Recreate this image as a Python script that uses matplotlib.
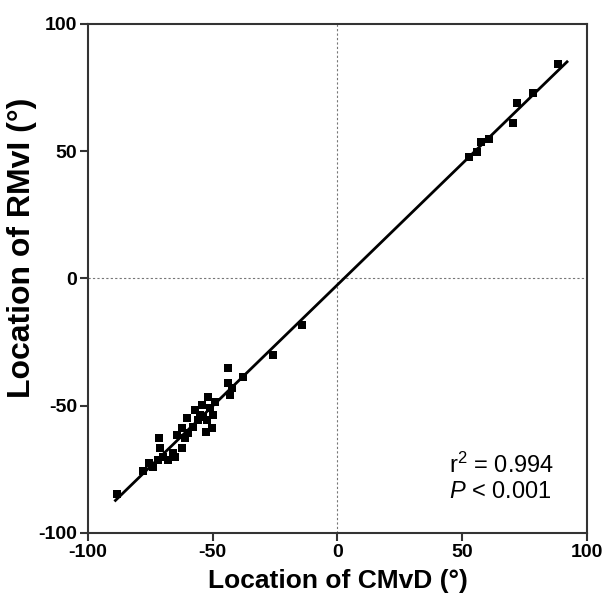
import matplotlib
matplotlib.use("Agg")
import matplotlib.pyplot as plt
import numpy as np

plt.rcParams['font.family'] = ['Liberation Sans', 'DejaVu Sans']
plt.rcParams['mathtext.fontset'] = 'custom'
plt.rcParams['mathtext.rm'] = 'Liberation Sans'
plt.rcParams['mathtext.it'] = 'Liberation Sans:italic'
plt.rcParams['axes.unicode_minus'] = False

# location of CMvD (x) vs location of RMvI (y), degrees
cmvd = [-88.3, -78.1, -75.4, -73.8, -71.4, -71.1, -71.8, -69.8, -67.8, -65.8,
        -65.1, -64.5, -62.4, -62.4, -61.1, -59.8, -60.2, -57.1, -57.8, -55.8,
        -55.1, -54.4, -53.8, -52.7, -52.4, -51.8, -51.1, -50.4, -49.8, -49.1,
        -43.8, -43.8, -42.4, -43.1, -37.8, -25.7, -14.2,
        52.9, 56.1, 57.6, 60.9, 70.3, 71.9, 78.3, 88.5]
rmvi = [-84.7, -75.5, -72.6, -74.0, -62.8, -66.7, -71.3, -70.0, -71.3, -68.7,
        -70.0, -61.5, -58.9, -66.7, -62.8, -60.8, -54.9, -51.7, -58.2, -55.6,
        -53.6, -49.7, -54.3, -60.2, -55.6, -46.4, -51.0, -58.9, -53.6, -48.4,
        -35.3, -41.2, -43.1, -45.8, -38.6, -30.1, -18.3,
        47.6, 49.8, 53.8, 54.7, 61.0, 68.8, 72.8, 84.3]
fit_range = [-89, 92]
ticks = [-100, -50, 0, 50, 100]

fig = plt.figure(figsize=(6.14, 5.98), dpi=100)
ax = fig.add_axes([0.1433, 0.1087, 0.8127, 0.8512])

ax.axhline(0, color='#777777', lw=0.8, ls=(0, (2, 2)), zorder=1)
ax.axvline(0, color='#777777', lw=0.8, ls=(0, (2, 2)), zorder=1)

slope, icpt = np.polyfit(cmvd, rmvi, 1)
xf = np.array(fit_range)
ax.plot(xf, slope * xf + icpt, color='black', lw=2, zorder=2)
ax.scatter(cmvd, rmvi, marker='s', s=26, color='black', linewidths=0, zorder=3)

ax.set_xlim(-100, 100)
ax.set_ylim(-100, 100)
ax.set_xticks(ticks)
ax.set_yticks(ticks)
for lab in ax.get_xticklabels() + ax.get_yticklabels():
    lab.set_fontweight('bold')
    lab.set_fontsize(14)
ax.tick_params(direction='out', length=6, width=1.5, color='#333333', pad=2)
for sp in ax.spines.values():
    sp.set_linewidth(1.5)
    sp.set_color('#333333')

ax.set_xlabel('Location of CMvD (°)', fontsize=19, fontweight='bold', labelpad=6)
ax.set_ylabel('Location of RMvI (°)', fontsize=23, fontweight='bold')
ax.yaxis.set_label_coords(-0.102, 0.56)

ax.text(0.723, 0.133, r'r$^2$ = 0.994', transform=ax.transAxes, fontsize=17,
        va='center', ha='left')
ax.text(0.723, 0.08, r'$\it{P}$ < 0.001', transform=ax.transAxes, fontsize=17,
        va='center', ha='left')

fig.savefig('out.png', dpi=100)
